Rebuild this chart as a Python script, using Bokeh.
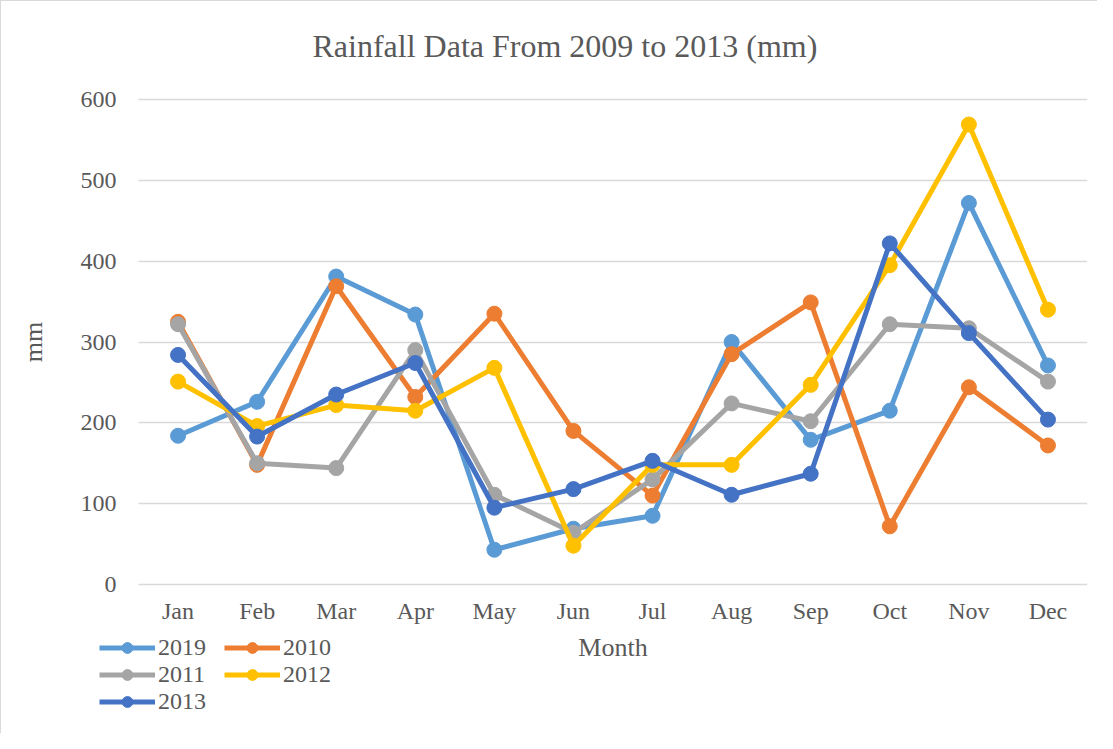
from bokeh.plotting import figure
from bokeh.models import (FixedTicker, Legend, LegendItem, ColumnDataSource,
                          LinearAxis, Grid, Range1d)
from bokeh.embed import file_html
from bokeh.resources import INLINE

months = ["Jan", "Feb", "Mar", "Apr", "May", "Jun", "Jul", "Aug", "Sep", "Oct", "Nov", "Dec"]
series_names = ["2019", "2010", "2011", "2012", "2013"]
y2019 = [184, 226, 381, 334, 43, 69, 85, 300, 179, 215, 472, 271]
y2010 = [325, 148, 369, 232, 335, 190, 110, 285, 349, 72, 244, 172]
y2011 = [322, 150, 144, 290, 111, 64, 130, 224, 202, 322, 317, 251]
y2012 = [251, 196, 222, 215, 268, 48, 148, 148, 247, 395, 569, 340]
y2013 = [284, 183, 235, 274, 95, 118, 153, 111, 137, 422, 311, 204]
y_ticks = [0, 100, 200, 300, 400, 500, 600]

colors = ["#5B9BD5", "#ED7D31", "#A5A5A5", "#FFC000", "#4472C4"]
all_series = [y2019, y2010, y2011, y2012, y2013]
x_pos = list(range(len(months)))

FONT = "Liberation Serif"
TXT = "#595959"

# layout (pixels): plot area spans x 137..1086, y 98..583 (value 600..0)
W, H = 1097, 733
AREA_L, AREA_R, AREA_T, AREA_B = 137, 1086, 98, 583
FRAME_T = 80
px_x = (AREA_R - AREA_L) / len(months)
px_y = (AREA_B - AREA_T) / (y_ticks[-1] - y_ticks[0])
x_start = -0.5 - AREA_L / px_x
x_end = len(months) - 0.5
y_start = -(H - AREA_B) / px_y
y_end = y_ticks[-1] + (AREA_T - FRAME_T) / px_y

p = figure(width=W, height=H, x_range=Range1d(x_start, x_end), y_range=Range1d(y_start, y_end),
           output_backend="svg", toolbar_location=None,
           x_axis_location=None, y_axis_location=None,
           min_border_left=0, min_border_right=W - AREA_R,
           min_border_top=FRAME_T, min_border_bottom=0,
           title="Rainfall Data From 2009 to 2013 (mm)")
p.styles = {"border-left": "1px solid #d9d9d9", "border-top": "1px solid #d9d9d9"}
p.outline_line_color = None
p.background_fill_color = "white"
p.xgrid.visible = False
p.ygrid.visible = False

p.title.text_font = FONT
p.title.text_font_size = "32px"
p.title.text_font_style = "normal"
p.title.text_color = TXT
p.title.align = "left"
p.title.offset = 311
p.title.vertical_align = "top"
p.title.standoff = 32

xaxis = LinearAxis(ticker=FixedTicker(ticks=x_pos),
                   major_label_overrides={i: m for i, m in zip(x_pos, months)},
                   fixed_location=0, axis_label="Month", bounds=(-0.5, x_end))
yaxis = LinearAxis(ticker=FixedTicker(ticks=y_ticks), fixed_location=-0.5,
                   axis_label="mm", bounds=(y_ticks[0], y_ticks[-1]))
for ax in (xaxis, yaxis):
    ax.axis_line_color = None
    ax.major_tick_line_color = None
    ax.minor_tick_line_color = None
    ax.major_label_text_font = FONT
    ax.major_label_text_font_size = "24px"
    ax.major_label_text_color = TXT
    ax.axis_label_text_font = FONT
    ax.axis_label_text_font_size = "26px"
    ax.axis_label_text_font_style = "normal"
    ax.axis_label_text_color = TXT
yaxis.major_label_standoff = 16
yaxis.axis_label_standoff = 30
xaxis.major_label_standoff = 7
xaxis.axis_label_standoff = 6
p.add_layout(xaxis, "below")
p.add_layout(yaxis, "left")

if "cross_bounds" in Grid.properties():
    ygrid = Grid(dimension=1, ticker=yaxis.ticker, cross_bounds=(-0.5, x_end),
                 grid_line_color="#D9D9D9", grid_line_width=1.5)
    p.add_layout(ygrid)
else:
    p.segment(x0=-0.5, x1=x_end, y0=y_ticks, y1=y_ticks,
              line_color="#D9D9D9", line_width=1.5)

items = []
for name, vals, c in zip(series_names, all_series, colors):
    src = ColumnDataSource(dict(x=x_pos, y=vals))
    r1 = p.line("x", "y", source=src, line_color=c, line_width=5)
    r2 = p.scatter("x", "y", source=src, marker="circle", size=15,
                   fill_color=c, line_color=c)
    items.append(LegendItem(label=name, renderers=[r1, r2]))

legend = Legend(items=items, orientation="horizontal", ncols=2,
                location=(98, 19), padding=0, margin=0, spacing=0,
                glyph_width=56, glyph_height=27, label_standoff=3,
                label_width=66, label_text_font=FONT, label_text_font_size="24px",
                label_text_color=TXT, border_line_color=None,
                background_fill_alpha=0)
p.add_layout(legend, "center")

open("out.html", "w").write(file_html(p, INLINE))
